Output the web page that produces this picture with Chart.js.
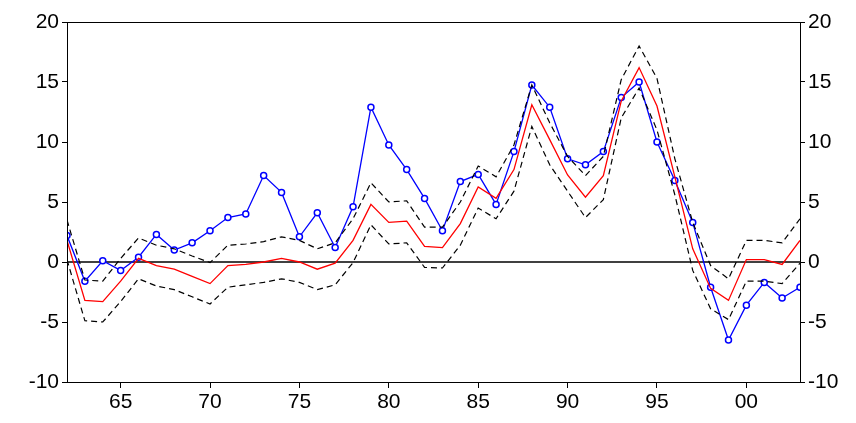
<!DOCTYPE html>
<html><head><script src="https://cdn.jsdelivr.net/npm/chart.js@4"></script>
<style>body{margin:0;background:#fff}#w{width:856px;height:423px}</style></head>
<body><div id="w"><canvas id="c"></canvas></div>
<script>
const years=[];for(let y=1962;y<=2003;y++)years.push(y);
const actual=[2.2,-1.6,0.1,-0.7,0.4,2.3,1.0,1.6,2.6,3.7,4.0,7.2,5.8,2.1,4.1,1.2,4.6,12.9,9.75,7.7,5.3,2.6,6.7,7.3,4.8,9.2,14.75,12.9,8.6,8.1,9.2,13.7,15.0,10.0,6.8,3.3,-2.1,-6.5,-3.6,-1.7,-3.0,-2.1];
const forecast=[1.8,-3.2,-3.3,-1.6,0.3,-0.3,-0.6,-1.2,-1.8,-0.3,-0.2,0.0,0.3,0.0,-0.6,-0.1,1.8,4.8,3.3,3.4,1.3,1.2,3.2,6.25,5.3,7.7,13.1,10.2,7.25,5.4,7.2,13.4,16.2,13.0,7.1,1.1,-2.2,-3.2,0.2,0.2,-0.2,1.8];
const upper=[3.5,-1.5,-1.6,0.3,2.0,1.4,1.1,0.5,-0.05,1.4,1.5,1.7,2.1,1.8,1.1,1.6,3.6,6.6,5.0,5.1,2.9,2.9,5.0,8.0,7.1,9.75,14.75,11.6,8.8,7.2,8.8,15.2,18.0,15.3,8.6,3.3,-0.3,-1.4,1.8,1.8,1.6,3.6];
const lower=[0.2,-4.9,-5.0,-3.3,-1.4,-2.0,-2.3,-2.9,-3.5,-2.1,-1.9,-1.7,-1.4,-1.7,-2.3,-1.9,-0.05,3.1,1.5,1.6,-0.45,-0.5,1.4,4.5,3.6,5.9,11.3,8.1,5.9,3.7,5.2,12.0,14.5,11.0,5.6,-0.7,-3.9,-4.8,-1.6,-1.6,-1.8,-0.1];
const xTicks=[1965,1970,1975,1980,1985,1990,1995,2000];
const yTicks=[-10,-5,0,5,10,15,20];
const pts=a=>a.map((v,i)=>({x:years[i],y:v}));
const font={family:'"Liberation Sans", Arial',size:21};
const zero={id:'zero',beforeDatasetsDraw(ch){const {ctx,chartArea:a,scales:{y}}=ch;const py=y.getPixelForValue(0);ctx.save();ctx.strokeStyle='#000';ctx.lineWidth=1.5;ctx.beginPath();ctx.moveTo(a.left,py);ctx.lineTo(a.right,py);ctx.stroke();ctx.restore();},
afterDraw(ch){const {ctx,chartArea:a}=ch;ctx.save();ctx.strokeStyle='#000';ctx.lineWidth=1;ctx.strokeRect(a.left+0.5,a.top+0.5,a.right-a.left,a.bottom-a.top);ctx.restore();}};
const yAxis=(pos)=>({type:'linear',position:pos,min:-10,max:20,afterBuildTicks:s=>{s.ticks=yTicks.map(v=>({value:v}))},
 afterFit:s=>{s.width=pos==='left'?67:56},grid:{drawOnChartArea:false,tickLength:5,tickColor:'#000',color:'#000'},border:{color:'#000'},
 ticks:{font,color:'#000',padding:3}});
new Chart(document.getElementById('c'),{type:'line',
data:{datasets:[
{data:pts(upper),borderColor:'#000',borderWidth:1.2,borderDash:[6,4],pointRadius:0,fill:false},
{data:pts(lower),borderColor:'#000',borderWidth:1.2,borderDash:[6,4],pointRadius:0,fill:false},
{data:pts(forecast),borderColor:'#ff0000',borderWidth:1.3,pointRadius:0},
{data:pts(actual),borderColor:'#0000ff',borderWidth:1.3,pointRadius:3,pointBorderColor:'#0000ff',pointBackgroundColor:'#fff',pointBorderWidth:1.5}
]},
options:{responsive:true,maintainAspectRatio:false,animation:false,layout:{padding:{top:22,right:0,bottom:0,left:0}},
plugins:{legend:{display:false},tooltip:{enabled:false}},
scales:{x:{type:'linear',min:1962,max:2003,afterBuildTicks:s=>{s.ticks=xTicks.map(v=>({value:v}))},
 afterFit:s=>{s.height=41},grid:{drawOnChartArea:false,tickLength:6,tickColor:'#000'},border:{color:'#000'},
 ticks:{font,color:'#000',padding:2,callback:v=>String(v%100).padStart(2,'0')}},
 y:yAxis('left'),y2:yAxis('right')}},
plugins:[zero]});
</script></body></html>
